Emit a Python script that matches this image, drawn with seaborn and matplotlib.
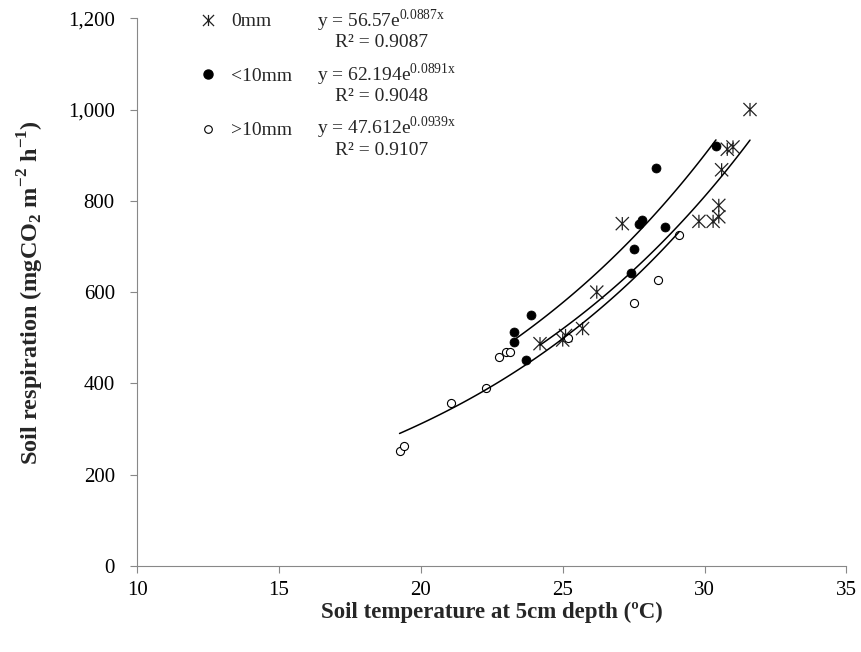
import numpy as np
import pandas as pd
import seaborn as sns
import matplotlib.pyplot as plt
from matplotlib.path import Path
from matplotlib.lines import Line2D

sns.set_style("ticks")
plt.rcParams['font.family'] = ['Liberation Serif', 'DejaVu Serif']
plt.rcParams['mathtext.fontset'] = 'custom'
plt.rcParams['mathtext.rm'] = 'Liberation Serif'
plt.rcParams['mathtext.bf'] = 'Liberation Serif:bold'

# 0mm
temp_0 = [24.2, 25.0, 25.1, 25.7, 26.2, 27.1, 29.8, 30.3, 30.5, 30.5, 30.6, 30.8, 31.0, 31.6]
resp_0 = [487, 495, 505, 520, 600, 750, 755, 755, 765, 790, 868, 913, 918, 1000]
# <10mm
temp_lt = [23.3, 23.3, 23.7, 23.9, 27.4, 27.5, 27.7, 27.8, 28.3, 28.6, 30.4]
resp_lt = [490, 512, 452, 550, 642, 694, 750, 758, 871, 743, 920]
# >10mm
temp_gt = [19.25, 19.4, 21.05, 22.3, 22.75, 23.0, 23.15, 25.2, 27.5, 28.35, 29.1]
resp_gt = [252, 263, 358, 390, 458, 469, 469, 500, 577, 626, 725]

groups = ["0mm", "<10mm", ">10mm"]
fit_a = [56.57, 62.194, 47.612]
fit_b = [0.0887, 0.0891, 0.0939]
fit_r2 = ["0.9087", "0.9048", "0.9107"]
eq_text = ["56.57", "62.194", "47.612"]

df = pd.DataFrame({
    "temp": temp_0 + temp_lt + temp_gt,
    "resp": resp_0 + resp_lt + resp_gt,
    "group": ["0mm"] * len(temp_0) + ["<10mm"] * len(temp_lt) + [">10mm"] * len(temp_gt),
})

star = Path([(0, -1), (0, 1), (-1, -1), (1, 1), (-1, 1), (1, -1)],
            [Path.MOVETO, Path.LINETO, Path.MOVETO, Path.LINETO, Path.MOVETO, Path.LINETO])

fig, ax = plt.subplots(figsize=(8.62, 6.52), dpi=100)
fig.subplots_adjust(left=0.159, right=0.982, top=0.972, bottom=0.132)

sns.scatterplot(data=df[df.group == "0mm"], x="temp", y="resp", marker=star, s=90,
                color="none", edgecolor="#222222", linewidth=0.9, ax=ax, legend=False)
sns.scatterplot(data=df[df.group == "<10mm"], x="temp", y="resp", marker="o", s=42,
                color="black", edgecolor="black", ax=ax, legend=False)
sns.scatterplot(data=df[df.group == ">10mm"], x="temp", y="resp", marker="o", s=34,
                facecolor="white", edgecolor="black", linewidth=0.8, ax=ax, legend=False)

# exponential trendlines
for g, a, b in zip(groups, fit_a, fit_b):
    t = df[df.group == g].temp
    xs = np.linspace(t.min(), t.max(), 100)
    ax.plot(xs, a * np.exp(b * xs), color="black", lw=1.1)

ax.set_xlim(10, 35)
ax.set_ylim(0, 1200)
ax.set_xticks(range(10, 36, 5))
ax.set_yticks(range(0, 1201, 200))
ax.yaxis.set_major_formatter(plt.FuncFormatter(lambda v, p: f"{int(v):,}"))
for s in ["left", "bottom"]:
    ax.spines[s].set_color("#888888")
sns.despine(ax=ax)
ax.tick_params(colors="#888888", labelcolor="black", labelsize=15, length=5)
ax.tick_params(axis="y", pad=11)
ax.tick_params(axis="x", pad=6)

ax.set_xlabel("Soil temperature at 5cm depth (ºC)", fontsize=16.5, fontweight="bold", labelpad=1)
ax.set_ylabel(r"Soil respiration (mgCO$_\mathbf{2}$ m$^\mathbf{-2}$ h$^\mathbf{-1}$)",
              fontsize=17.5, fontweight="bold", labelpad=16)

handles = [
    Line2D([], [], ls="", marker=star, ms=8, mfc="none", mec="#222222", mew=0.9),
    Line2D([], [], ls="", marker="o", ms=6.5, color="black"),
    Line2D([], [], ls="", marker="o", ms=5.5, mfc="white", mec="black", mew=0.8),
]
ax.legend(handles, groups, loc="upper left", bbox_to_anchor=(0.061, 1.042), frameon=False,
          fontsize=14, labelspacing=1.9, handletextpad=0.7, handlelength=1.0)

for i in range(3):
    yc = 1.0 - (2 + 54 * i) / 548
    ax.text(0.2535, yc, f"y = {eq_text[i]}e$^{{\\mathrm{{{fit_b[i]}x}}}}$", transform=ax.transAxes,
            fontsize=14, va="center", ha="left")
    ax.text(0.279, yc - 22 / 548, f"R² = {fit_r2[i]}", transform=ax.transAxes,
            fontsize=14, va="center", ha="left")

plt.savefig("out.png", dpi=100)
